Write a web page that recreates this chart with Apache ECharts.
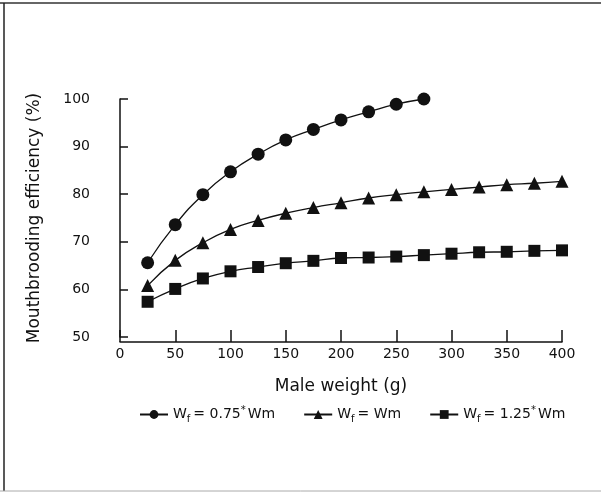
<!DOCTYPE html>
<html>
<head>
<meta charset="utf-8">
<script src="https://cdn.jsdelivr.net/npm/echarts@6/dist/echarts.min.js"></script>
<style>
  html, body { margin: 0; padding: 0; background: #fff; }
  #chart { width: 601px; height: 494px; }
</style>
</head>
<body>
<div id="chart"></div>
<script>
// male weight (g)
var weights = [25, 50, 75, 100, 125, 150, 175, 200, 225, 250, 275, 300, 325, 350, 375, 400];
// Wf = 0.75*Wm (only up to 275 g)
var eff075 = [65.6, 73.6, 79.9, 84.7, 88.4, 91.4, 93.6, 95.6, 97.3, 98.9, 100.0];
// Wf = Wm
var eff100 = [60.8, 66.1, 69.8, 72.6, 74.5, 76.0, 77.2, 78.2, 79.2, 79.9, 80.5, 81.0, 81.5, 82.0, 82.3, 82.7];
// Wf = 1.25*Wm
var eff125 = [57.4, 60.1, 62.3, 63.8, 64.7, 65.5, 66.0, 66.6, 66.7, 66.9, 67.2, 67.5, 67.8, 67.9, 68.1, 68.2];
var xTicks = [0, 50, 100, 150, 200, 250, 300, 350, 400];
var yTicks = [50, 60, 70, 80, 90, 100];

function pairs(vals) {
    var out = [];
    for (var i = 0; i < vals.length; i++) {
        out.push([weights[i], vals[i]]);
    }
    return out;
}

var font = '"DejaVu Sans", sans-serif';
var myChart = echarts.init(document.getElementById('chart'));
var option = {
    backgroundColor: '#fff',
    animation: false,
    color: ['#111', '#111', '#111'],
    grid: {
        left: 120,
        right: 39,
        top: 99,
        bottom: 157
    },
    legend: {
        top: 400,
        left: 134,
        itemWidth: 28,
        itemHeight: 11,
        itemGap: 28,
        textStyle: {
            color: '#111',
            fontFamily: font,
            fontSize: 14,
            rich: {
                a: { fontSize: 14, fontFamily: font, color: '#111' },
                sub: { fontSize: 10, fontFamily: font, color: '#111', verticalAlign: 'bottom', padding: [9, 3, 0, 0] },
                sup: { fontSize: 10, fontFamily: font, color: '#111', verticalAlign: 'top', padding: [0, 2, 6, 0] }
            }
        },
        data: [
            { name: '{a|W}{sub|f}{a|= 0.75}{sup|*}{a|Wm}' },
            { name: '{a|W}{sub|f}{a|= Wm}' },
            { name: '{a|W}{sub|f}{a|= 1.25}{sup|*}{a|Wm}' }
        ]
    },
    xAxis: {
        type: 'value',
        min: 0,
        max: 400,
        interval: 50,
        offset: 5,
        name: 'Male weight (g)',
        nameLocation: 'middle',
        nameGap: 36,
        nameTextStyle: { color: '#111', fontFamily: font, fontSize: 17 },
        splitLine: { show: false },
        axisLine: { lineStyle: { color: '#111', width: 1.5 } },
        axisTick: { inside: true, length: 12, lineStyle: { color: '#111', width: 1.5 } },
        axisLabel: { color: '#111', fontFamily: font, fontSize: 14, margin: 5 }
    },
    yAxis: {
        type: 'value',
        min: 50,
        max: 100,
        interval: 10,
        offset: 25,
        name: 'Mouthbrooding efficiency (%)',
        nameLocation: 'middle',
        nameGap: 52,
        nameRotate: 90,
        nameTextStyle: { color: '#111', fontFamily: font, fontSize: 17 },
        splitLine: { show: false },
        axisLine: { show: true, lineStyle: { color: '#111', width: 1.5 } },
        axisTick: { show: true, inside: true, length: 8, lineStyle: { color: '#111', width: 1.5 } },
        axisLabel: { color: '#111', fontFamily: font, fontSize: 14, margin: 5 }
    },
    series: [
        {
            name: '{a|W}{sub|f}{a|= 0.75}{sup|*}{a|Wm}',
            type: 'line',
            smooth: true,
            symbol: 'circle',
            symbolSize: 13,
            lineStyle: { color: '#111', width: 1.3 },
            itemStyle: { color: '#111' },
            data: pairs(eff075)
        },
        {
            name: '{a|W}{sub|f}{a|= Wm}',
            type: 'line',
            smooth: true,
            symbol: 'triangle',
            symbolSize: 13,
            lineStyle: { color: '#111', width: 1.3 },
            itemStyle: { color: '#111' },
            data: pairs(eff100)
        },
        {
            name: '{a|W}{sub|f}{a|= 1.25}{sup|*}{a|Wm}',
            type: 'line',
            smooth: true,
            symbol: 'rect',
            symbolSize: 12,
            lineStyle: { color: '#111', width: 1.3 },
            itemStyle: { color: '#111' },
            data: pairs(eff125)
        }
    ],
    // frame of the scanned figure
    graphic: [
        { type: 'line', shape: { x1: 0, y1: 3, x2: 601, y2: 3 }, style: { stroke: '#333', lineWidth: 1.5 } },
        { type: 'line', shape: { x1: 4, y1: 3, x2: 4, y2: 491 }, style: { stroke: '#222', lineWidth: 1.5 } },
        { type: 'line', shape: { x1: 0, y1: 491, x2: 601, y2: 491 }, style: { stroke: '#aaa', lineWidth: 1 } }
    ]
};
myChart.setOption(option);
</script>
</body>
</html>
